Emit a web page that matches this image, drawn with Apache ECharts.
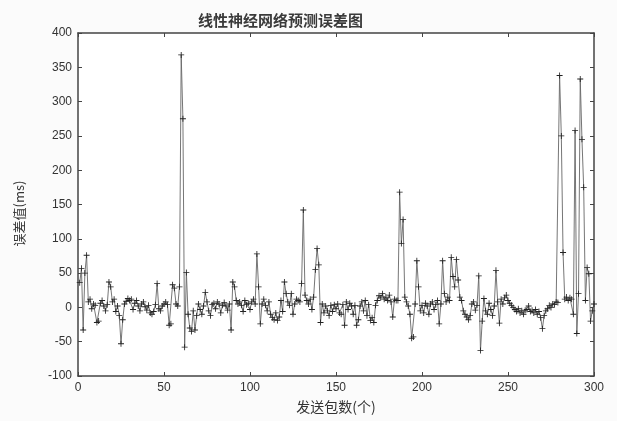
<!DOCTYPE html>
<html>
<head>
<meta charset="utf-8">
<script src="https://cdn.jsdelivr.net/npm/echarts@6/dist/echarts.min.js"></script>
<style>
html,body{margin:0;padding:0;background:#fbfbfb;}
#c{width:617px;height:421px;}
</style>
</head>
<body>
<div id="c"></div>
<script>
// packet index runs 1..300; errors (ms)
const errors = [
  36, 57, -33, 50, 76, 8, 12, -2, 5, 3,
  -22, -20, 6, 10, 2, -5, 4, 37, 30, 8,
  12, -6, 2, -12, -53, -18, 5, 9, 13, 10,
  12, -3, 6, 10, 2, -5, 5, 8, 1, -4,
  3, -8, -10, -6, 4, 35, -2, -5, 2, 5,
  8, 4, -26, -24, 33, 28, 5, 2, 30, 368,
  275, -58, 51, -10, -30, -35, -5, -33, -12, 5,
  -3, -10, 2, 22, 8, -5, -12, 4, 6, -2,
  8, 5, -8, 3, 7, 2, -4, 5, -33, 37,
  30, 10, 5, 8, 3, -6, 10, 4, 6, -3,
  8, 12, 5, 78, 30, -24, 5, 12, 3, -5,
  8, -10, -15, -18, -8, -19, -14, 10, -6, 37,
  20, 8, 3, 20, -10, 5, 12, 10, 8, 35,
  142, 18, 10, 5, 12, -3, 15, 55, 86, 62,
  -22, 5, -8, 2, -5, -12, 3, -6, 4, -2,
  5, -8, -10, 4, -26, 8, -3, 6, 2, -10,
  3, -26, -18, 2, 8, -5, 10, -12, 4, -19,
  -15, -22, 3, 10, 17, 14, 20, 12, 15, 10,
  18, 8, -14, 12, 10, 10, 168, 93, 128, 15,
  8, 2, -10, -45, -43, 5, 68, 30, -5, 3,
  -8, 6, 2, -10, 5, 8, -3, 4, 10, -24,
  5, 68, 20, 8, 15, 10, 73, 45, 30, 70,
  40, 15, 10, -5, -10, -14, -18, -12, 5, 8,
  -4, 3, 46, -63, -20, 13, -5, -10, 6, -3,
  -12, 2, 54, 8, -23, 12, 5, 14, 18, 10,
  6, 3, 0, -3, -6, -2, -8, -5, -10, -4,
  -3, 2, -6, -4, -8, -3, -10, -6, -15, -31,
  -12, -5, -2, 3, 0, 5, 4, 8, 7, 338,
  250, 80, 12, 15, 10, 14, 12, -10, 258, -38,
  20, 333, 245, 175, 10, 58, 49, -20, -5, 5
];
const xTicks = [0, 50, 100, 150, 200, 250, 300];
const yTicks = [-100, -50, 0, 50, 100, 150, 200, 250, 300, 350, 400];

const chartTitle = '线性神经网络预测误差图';
const xName = '发送包数(个)';
const yName = '误差值(ms)';

const pts = errors.map((v, i) => [i + 1, v]);
const font = "'Liberation Sans', 'Noto Sans CJK SC', sans-serif";
const cjk = "'Noto Sans CJK SC', sans-serif";
const axisCol = '#444';

const chart = echarts.init(document.getElementById('c'));
const baseAxis = {
  axisLine: {show: true, onZero: false, lineStyle: {color: axisCol, width: 1.5}},
  axisTick: {show: true, inside: true, length: 4, lineStyle: {color: axisCol}},
  splitLine: {show: false}
};
chart.setOption({
  animation: false,
  backgroundColor: '#fbfbfb',
  title: {
    text: chartTitle, left: 193, top: 8,
    textStyle: {fontFamily: cjk, fontSize: 15, fontWeight: 'bold', color: '#3a3a3a'}
  },
  grid: {left: 78, right: 23, top: 33, bottom: 45, backgroundColor: '#fff', show: true, borderWidth: 0},
  xAxis: [
    Object.assign({}, baseAxis, {
      type: 'value', min: xTicks[0], max: xTicks[xTicks.length - 1], interval: 50,
      position: 'bottom',
      name: xName, nameLocation: 'middle', nameGap: 24,
      nameTextStyle: {fontFamily: cjk, fontSize: 14, color: '#333'},
      axisLabel: {fontFamily: font, fontSize: 12, color: '#333', margin: 6}
    }),
    Object.assign({}, baseAxis, {
      type: 'value', min: xTicks[0], max: xTicks[xTicks.length - 1], interval: 50,
      position: 'top', axisLabel: {show: false}
    })
  ],
  yAxis: [
    Object.assign({}, baseAxis, {
      type: 'value', min: yTicks[0], max: yTicks[yTicks.length - 1], interval: 50,
      position: 'left',
      name: yName, nameLocation: 'middle', nameGap: 52, nameRotate: 90,
      nameTextStyle: {fontFamily: cjk, fontSize: 13, color: '#333', padding: [0, 18, 0, 0]},
      axisLabel: {fontFamily: font, fontSize: 12, color: '#333', margin: 6}
    }),
    Object.assign({}, baseAxis, {
      type: 'value', min: yTicks[0], max: yTicks[yTicks.length - 1], interval: 50,
      position: 'right', axisLabel: {show: false}
    })
  ],
  series: [{
    type: 'line',
    data: pts,
    xAxisIndex: 0, yAxisIndex: 0,
    symbol: 'path://M4.3,0h1.4v10h-1.4zM0,4.3h10v1.4h-10z',
    symbolSize: 6,
    showAllSymbol: true,
    lineStyle: {color: '#666', width: 0.9},
    itemStyle: {color: '#222'},
    z: 3
  }]
});
</script>
</body>
</html>
